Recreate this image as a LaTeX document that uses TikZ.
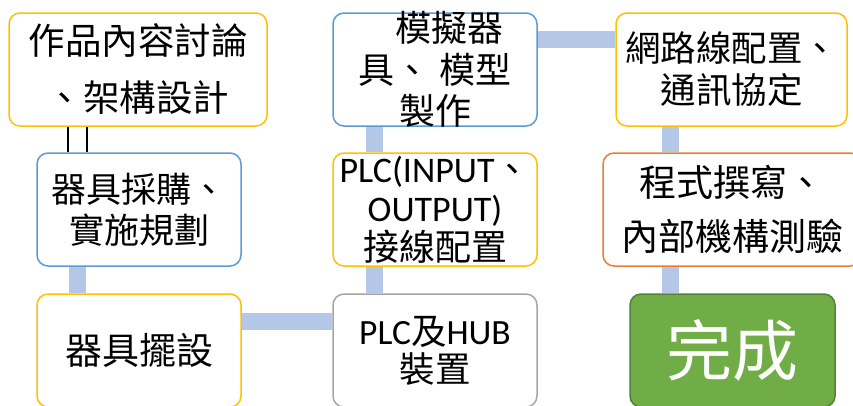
\documentclass[tikz,border=0pt]{standalone}
\usepackage{fontspec}
\usetikzlibrary{backgrounds}
\newfontfamily\cjk{Noto Sans CJK TC}
\newfontfamily\lat{Carlito}
\definecolor{barblue}{HTML}{B4C7E7}
\definecolor{borange}{HTML}{FFC000}
\definecolor{bblue}{HTML}{5B9BD5}
\definecolor{bgray}{HTML}{A5A5A5}
\definecolor{bred}{HTML}{ED7D31}
\definecolor{bgreen}{HTML}{70AD47}
\definecolor{dgreen}{HTML}{548235}
\begin{document}
\begin{tikzpicture}[x=1pt,y=-1pt,
  box/.style={draw, line width=1.5pt, rounded corners=11pt, fill=white, inner sep=0pt, minimum width=204pt, minimum height=113pt},
  bar/.style={draw=barblue, line width=17pt},
  thin/.style={draw=black, line width=1.6pt},
  txt/.style={align=center, inner sep=0pt, text=black}]
\useasboundingbox (0,0) rectangle (853,405);
% boxes
\node[box, draw=borange, minimum width=258pt] (b1) at (138,69.5) {};
\node[box, draw=bblue] (b2) at (139,209.5) {};
\node[box, draw=borange] (b3) at (139,350.5) {};
\node[box, draw=bgray] (b4) at (435,350.5) {};
\node[box, draw=borange] (b5) at (435,209.5) {};
\node[box, draw=bblue] (b6) at (435,69.5) {};
\node[box, draw=borange, minimum width=231pt] (b7) at (731.5,69.5) {};
\node[box, draw=bred, minimum width=258pt] (b8) at (732,209.5) {};
\node[box, draw=dgreen, fill=bgreen, minimum width=205pt] (b9) at (732.5,350.5) {};
% connectors (behind boxes)
\begin{scope}[on background layer]
\coordinate (c1a) at ([xshift=60pt]b1.south west);
\coordinate (c1b) at ([xshift=79pt]b1.south west);
\draw[thin] (c1a) -- (c1a |- b2.north);
\draw[thin] (c1b) -- (c1b |- b2.north);
\coordinate (c23) at ([xshift=41pt]b2.south west);
\draw[bar] (c23) -- (c23 |- b3.north);
\coordinate (c34) at ([yshift=-28.5pt]b3.north east);
\draw[bar] (c34) -- (c34 -| b4.west);
\coordinate (c45) at ([xshift=42pt]b4.north west);
\draw[bar] (c45) -- (c45 |- b5.south);
\coordinate (c56) at ([xshift=42pt]b5.north west);
\draw[bar] (c56) -- (c56 |- b6.south);
\coordinate (c67) at ([yshift=-27.5pt]b6.north east);
\draw[bar] (c67) -- (c67 -| b7.west);
\coordinate (c78) at ([xshift=55.5pt]b7.south west);
\draw[bar] (c78) -- (c78 |- b8.north);
\coordinate (c89) at (c78 |- b8.south);
\draw[bar] (c89) -- (c89 |- b9.north);
\end{scope}
% texts
\node[txt, font=\cjk\fontsize{36.5}{57}\selectfont] (t1) at (b1) {作品內容討論\\、架構設計};
\node[txt, font=\cjk\fontsize{35}{41}\selectfont] (t2) at (b2) {器具採購、\\實施規劃};
\node[txt, font=\cjk\fontsize{37}{41}\selectfont] (t3) at (b3) {器具擺設};
\node[txt, font=\fontsize{35.5}{38}\selectfont] (t4) at (b4) {{\lat PLC}{\cjk 及}{\lat HUB}\\{\cjk 裝置}};
\node[txt, font=\fontsize{36}{39}\selectfont] (t5) at (b5) {{\lat PLC(INPUT}{\cjk 、}\\{\lat OUTPUT)}\\{\cjk 接線配置}};
\node[txt, font=\cjk\fontsize{36}{41.5}\selectfont] (t6) at (b6) {\hspace*{28pt}模擬器\\具、\hspace{10pt}模型\\製作};
\node[txt, font=\cjk\fontsize{35.5}{42}\selectfont] (t7) at (b7) {網路線配置、\\通訊協定};
\node[txt, font=\cjk\fontsize{37}{54}\selectfont] (t8) at (b8) {程式撰寫、\\內部機構測驗};
\node[txt, text=white, font=\cjk\fontsize{66}{70}\selectfont] (t9) at (b9) {完成};
\end{tikzpicture}
\end{document}
